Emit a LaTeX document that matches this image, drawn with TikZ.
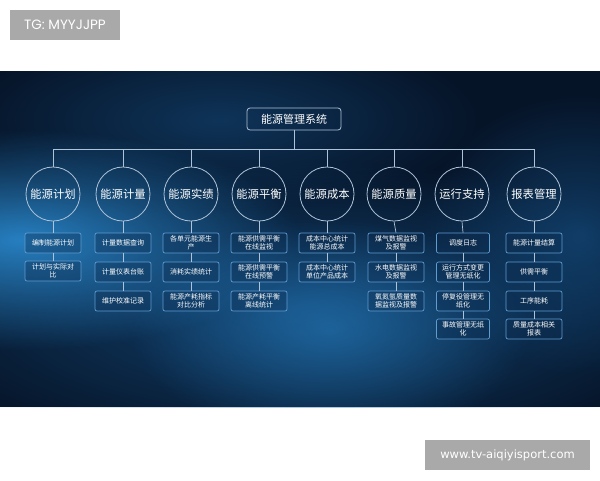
\documentclass[tikz,border=0pt]{standalone}
\usepackage{fontspec}
\usetikzlibrary{fadings}
\setmainfont{DejaVu Sans}
\newfontfamily\cjk{Noto Sans CJK SC}
\newfontfamily\popfont{Poppins}
\definecolor{bgA}{HTML}{061428}
\definecolor{glow}{HTML}{2A8AD0}
\definecolor{glowB}{HTML}{17548A}
\definecolor{linec}{HTML}{AFC3D8}
\definecolor{boxc}{HTML}{5F9CD2}
\definecolor{boxfill}{HTML}{0C2B4E}
\definecolor{labgray}{HTML}{A9A9A9}
\tikzfading[name=softglow, inner color=transparent!0, outer color=transparent!100]
\begin{document}
\begin{tikzpicture}[x=1pt,y=-1pt,
  conn/.style={draw=linec, line width=0.7pt},
  topbox/.style={draw=linec, line width=0.8pt, rounded corners=3pt, minimum width=94pt, minimum height=22pt, inner sep=0pt, text=white, font=\cjk\fontsize{11}{11}\selectfont},
  circ/.style={circle, draw=linec, line width=0.8pt, minimum size=54pt, inner sep=0pt, text=white, font=\cjk\fontsize{11.3}{12}\selectfont},
  sub/.style={draw=boxc, line width=0.7pt, fill=boxfill, fill opacity=0.35, text opacity=1, rounded corners=2pt, minimum width=56pt, minimum height=20pt, inner sep=1pt, align=center, text=white, font=\cjk\fontsize{7}{8.3}\selectfont},
  lab/.style={fill=labgray, text=white, inner sep=0pt}]
\useasboundingbox (0,0) rectangle (600,480);
\fill[white] (0,0) rectangle (600,480);
% panel background
\begin{scope}
\clip (0,71) rectangle (600,407);
\fill[bgA] (0,71) rectangle (600,407);
\fill[glowB, path fading=softglow, fill opacity=0.7] (300,310) ellipse (420 and 150);
\fill[glowB, path fading=softglow, fill opacity=0.5] (220,120) ellipse (260 and 90);
\fill[glow, path fading=softglow, fill opacity=0.9] (20,240) ellipse (280 and 110);
\fill[glow, path fading=softglow, fill opacity=0.5] (330,330) ellipse (200 and 110);
\fill[glowB, path fading=softglow, fill opacity=0.6] (580,235) ellipse (160 and 140);
\end{scope}
% labels
\node[lab, minimum width=110pt, minimum height=30pt, font=\popfont\fontsize{13.5}{14}\selectfont] (tg) at (65,25) {TG: MYYJJPP};
\node[lab, minimum width=165pt, minimum height=30pt, font=\fontsize{11.5}{12}\selectfont] (www) at (507.5,455) {www.tv-aiqiyisport.com};
% top
\node[topbox] (top) at (294,119) {能源管理系统};
\coordinate (bar) at (294,149);
% circles
\node[circ] (c1) at (53,194) {能源计划};
\node[circ] (c2) at (123,194) {能源计量};
\node[circ] (c3) at (191,194) {能源实绩};
\node[circ] (c4) at (259,194) {能源平衡};
\node[circ] (c5) at (327,194) {能源成本};
\node[circ] (c6) at (394,194) {能源质量};
\node[circ] (c7) at (462,194) {运行支持};
\node[circ] (c8) at (534,194) {报表管理};
\draw[conn] (top.south) -- (top.south |- bar);
\draw[conn] (c1.north) -- (c1.north |- bar) -- (c8.north |- bar) -- (c8.north);
\foreach \i in {2,...,7} {\draw[conn] (c\i.north) -- (c\i.north |- bar);}
% sub boxes
\node[sub] (b11) at (53,243) {编制能源计划};
\node[sub] (b12) at (53,271) {计划与实际对\\比};
\node[sub] (b21) at (123,243) {计量数据查询};
\node[sub] (b22) at (123,272) {计量仪表台账};
\node[sub] (b23) at (123,301) {维护校准记录};
\node[sub] (b31) at (191,243) {各单元能源生\\产};
\node[sub] (b32) at (191,272) {消耗实绩统计};
\node[sub] (b33) at (191,301) {能源产耗指标\\对比分析};
\node[sub] (b41) at (259,243) {能源供需平衡\\在线监视};
\node[sub] (b42) at (259,272) {能源供需平衡\\在线预警};
\node[sub] (b43) at (259,301) {能源产耗平衡\\离线统计};
\node[sub] (b51) at (327,243) {成本中心统计\\能源总成本};
\node[sub] (b52) at (327,272) {成本中心统计\\单位产品成本};
\node[sub] (b61) at (396,243) {煤气数据监视\\及报警};
\node[sub] (b62) at (396,272) {水电数据监视\\及报警};
\node[sub] (b63) at (396,301) {氧氮氩质量数\\据监视及报警};
\node[sub, minimum width=53pt] (b71) at (463,243) {调度日志};
\node[sub, minimum width=53pt] (b72) at (463,272) {运行方式变更\\管理无纸化};
\node[sub, minimum width=53pt] (b73) at (463,301) {停复役管理无\\纸化};
\node[sub, minimum width=53pt] (b74) at (463,329) {事故管理无纸\\化};
\node[sub] (b81) at (534,243) {能源计量结算};
\node[sub] (b82) at (534,272) {供需平衡};
\node[sub] (b83) at (534,301) {工序能耗};
\node[sub] (b84) at (534,329) {质量成本相关\\报表};
% connectors
\foreach \i in {1,...,8} {\draw[conn] (c\i.south) -- (b\i1.north);}
\draw[conn] (b11.south) -- (b12.north);
\draw[conn] (b21.south) -- (b22.north);
\draw[conn] (b22.south) -- (b23.north);
\draw[conn] (b31.south) -- (b32.north);
\draw[conn] (b32.south) -- (b33.north);
\draw[conn] (b41.south) -- (b42.north);
\draw[conn] (b42.south) -- (b43.north);
\draw[conn] (b51.south) -- (b52.north);
\draw[conn] (b61.south) -- (b62.north);
\draw[conn] (b62.south) -- (b63.north);
\draw[conn] (b71.south) -- (b72.north);
\draw[conn] (b72.south) -- (b73.north);
\draw[conn] (b73.south) -- (b74.north);
\draw[conn] (b81.south) -- (b82.north);
\draw[conn] (b82.south) -- (b83.north);
\draw[conn] (b83.south) -- (b84.north);
\end{tikzpicture}
\end{document}
